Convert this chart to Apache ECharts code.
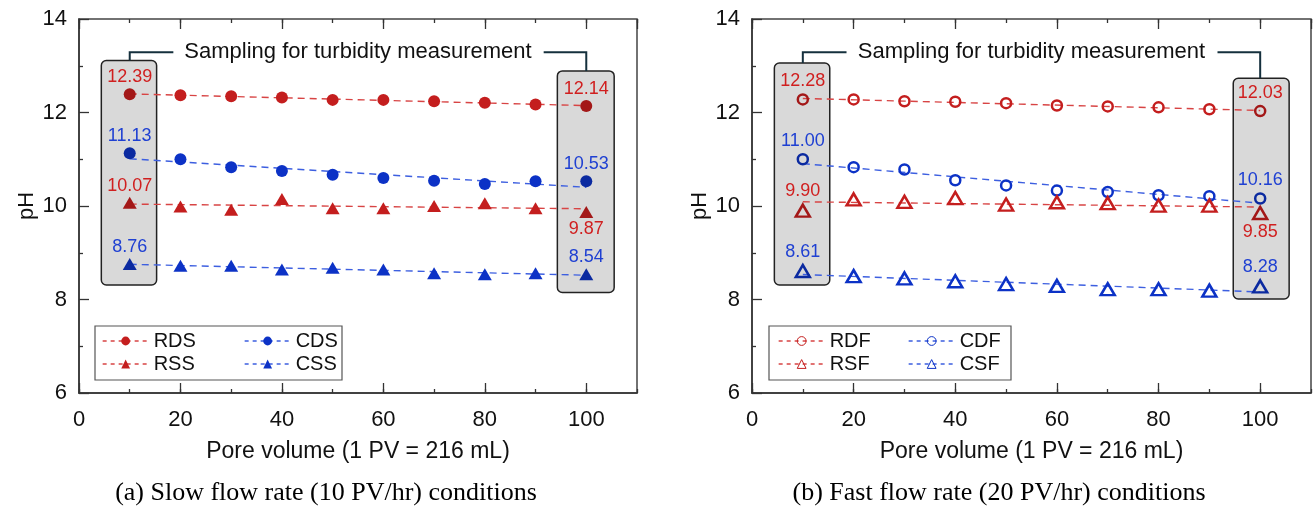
<!DOCTYPE html>
<html>
<head>
<meta charset="utf-8">
<script src="https://cdn.jsdelivr.net/npm/echarts@6/dist/echarts.min.js"></script>
<style>
  html, body { margin: 0; background: #fff; }
  #chart { width: 1314px; height: 506px; }
</style>
</head>
<body>
<div id="chart"></div>
<script>
// pore volume sampled (PV)
const poreVolume = [10, 20, 30, 40, 50, 60, 70, 80, 90, 100];

// (a) slow flow rate
const rdsPH = [12.39, 12.37, 12.35, 12.32, 12.27, 12.27, 12.24, 12.21, 12.17, 12.14];
const cdsPH = [11.13, 11.00, 10.83, 10.75, 10.67, 10.60, 10.54, 10.47, 10.53, 10.53];
const rssPH = [10.07, 9.99, 9.92, 10.15, 9.95, 9.95, 10.00, 10.06, 9.95, 9.87];
const cssPH = [8.76, 8.72, 8.72, 8.64, 8.68, 8.64, 8.56, 8.54, 8.56, 8.54];

// (b) fast flow rate
const rdfPH = [12.28, 12.28, 12.24, 12.23, 12.20, 12.15, 12.13, 12.11, 12.07, 12.03];
const cdfPH = [11.00, 10.83, 10.78, 10.55, 10.44, 10.33, 10.30, 10.23, 10.21, 10.16];
const rsfPH = [9.90, 10.14, 10.09, 10.17, 10.03, 10.08, 10.06, 10.01, 10.01, 9.85];
const csfPH = [8.61, 8.50, 8.45, 8.39, 8.33, 8.29, 8.22, 8.22, 8.19, 8.28];

const captions = [
  '(a) Slow flow rate (10 PV/hr) conditions',
  '(b) Fast flow rate (20 PV/hr) conditions',
];

const SANS = '"Liberation Sans", Arial, sans-serif';
const SERIF = '"Liberation Serif", "Times New Roman", serif';
const AXIS = '#333';

const colors = {
  red: { mark: '#c41e1e', boxed: '#a31818', text: '#d01f1f', line: '#d84444' },
  blue: { mark: '#0c32c6', boxed: '#0b2aa0', text: '#1f40d2', line: '#3d5fe0' },
};

const groups = [
  { grid: 0, name: 'RDS', ys: rdsPH, c: 'red', symbol: 'circle', hollow: false, lastPos: 'top' },
  { grid: 0, name: 'CDS', ys: cdsPH, c: 'blue', symbol: 'circle', hollow: false, lastPos: 'top' },
  { grid: 0, name: 'RSS', ys: rssPH, c: 'red', symbol: 'triangle', hollow: false, lastPos: 'bottom' },
  { grid: 0, name: 'CSS', ys: cssPH, c: 'blue', symbol: 'triangle', hollow: false, lastPos: 'top' },
  { grid: 1, name: 'RDF', ys: rdfPH, c: 'red', symbol: 'circle', hollow: true, lastPos: 'top' },
  { grid: 1, name: 'CDF', ys: cdfPH, c: 'blue', symbol: 'circle', hollow: true, lastPos: 'top' },
  { grid: 1, name: 'RSF', ys: rsfPH, c: 'red', symbol: 'triangle', hollow: true, lastPos: 'bottom' },
  { grid: 1, name: 'CSF', ys: csfPH, c: 'blue', symbol: 'triangle', hollow: true, lastPos: 'top' },
];

// least squares trend line between first and last sample
function trend(ys) {
  const n = ys.length;
  const mx = poreVolume.reduce((a, b) => a + b, 0) / n;
  const my = ys.reduce((a, b) => a + b, 0) / n;
  let sxy = 0, sxx = 0;
  for (let i = 0; i < n; i++) {
    sxy += (poreVolume[i] - mx) * (ys[i] - my);
    sxx += (poreVolume[i] - mx) ** 2;
  }
  const b = sxy / sxx;
  const x0 = poreVolume[0], x1 = poreVolume[n - 1];
  return [[x0, my + b * (x0 - mx)], [x1, my + b * (x1 - mx)]];
}

const series = [];
groups.forEach((g) => {
  const col = colors[g.c];
  const xi = g.grid * 4;
  series.push({
    type: 'line',
    xAxisIndex: xi,
    yAxisIndex: g.grid,
    data: trend(g.ys),
    symbol: 'none',
    silent: true,
    z: 2,
    lineStyle: { color: col.line, width: 1.4, type: [7, 5] },
  });
  const last = g.ys.length - 1;
  const size = g.symbol === 'circle' ? (g.hollow ? 10 : 12) : [14, 12];
  const styleFor = (c) => g.hollow
    ? { color: 'rgba(0,0,0,0)', borderColor: c, borderWidth: 2.5 }
    : { color: c };
  series.push({
    type: 'line',
    name: g.name,
    xAxisIndex: xi,
    yAxisIndex: g.grid,
    symbol: g.symbol,
    symbolSize: size,
    showAllSymbol: true,
    z: 3,
    lineStyle: { color: col.line, width: 1.4, opacity: 0, type: [4, 4] },
    itemStyle: styleFor(col.mark),
    emphasis: { disabled: true },
    data: g.ys.map((v, i) => {
      const boxed = i === 0 || i === last;
      return {
        value: [poreVolume[i], v],
        itemStyle: boxed ? styleFor(col.boxed) : undefined,
        label: {
          show: boxed,
          position: i === last ? g.lastPos : 'top',
          distance: g.hollow ? 3 : 2,
          color: col.text,
          fontSize: 18,
          fontFamily: SANS,
          formatter: (p) => p.value[1].toFixed(2),
        },
      };
    }),
  });
});

const grids = [
  { left: 79, top: 19, width: 558, height: 374 },
  { left: 752, top: 19, width: 559, height: 374 },
];

const xAxes = [];
const yAxes = [];
grids.forEach((gr, gi) => {
  const tickStyle = { color: AXIS, width: 1.3 };
  xAxes.push({
    gridIndex: gi, type: 'value', min: 0, max: 110, interval: 20, position: 'bottom',
    axisLine: { show: true, lineStyle: { color: AXIS, width: 1.5 } },
    axisTick: { inside: true, length: 10, lineStyle: tickStyle },
    axisLabel: { fontSize: 22, color: '#111', fontFamily: SANS, margin: 16, showMaxLabel: false },
    splitLine: { show: false },
    name: 'Pore volume (1 PV = 216 mL)',
    nameLocation: 'middle',
    nameGap: 47,
    nameTextStyle: { fontSize: 23, color: '#111', fontFamily: SANS },
  });
  xAxes.push({
    gridIndex: gi, type: 'value', min: 0, max: 110, interval: 10, position: 'bottom',
    axisLine: { show: false },
    axisTick: { inside: true, length: 4, lineStyle: tickStyle },
    axisLabel: { show: false }, splitLine: { show: false },
  });
  xAxes.push({
    gridIndex: gi, type: 'value', min: 0, max: 110, interval: 20, position: 'top',
    axisLine: { show: false },
    axisTick: { inside: true, length: 10, lineStyle: tickStyle },
    axisLabel: { show: false }, splitLine: { show: false },
  });
  xAxes.push({
    gridIndex: gi, type: 'value', min: 0, max: 110, interval: 10, position: 'top',
    axisLine: { show: false },
    axisTick: { inside: true, length: 4, lineStyle: tickStyle },
    axisLabel: { show: false }, splitLine: { show: false },
  });
  yAxes.push({
    gridIndex: gi, type: 'value', min: 6, max: 14, interval: 2,
    axisLine: { show: true, lineStyle: { color: AXIS, width: 1.5 } },
    axisTick: { inside: true, length: 10, lineStyle: tickStyle },
    minorTick: { show: true, splitNumber: 2, length: 4, lineStyle: tickStyle },
    axisLabel: { fontSize: 22, color: '#111', fontFamily: SANS, margin: 12 },
    splitLine: { show: false },
    name: 'pH',
    nameLocation: 'middle',
    nameGap: 41,
    nameTextStyle: { fontSize: 22, color: '#111', fontFamily: SANS },
  });
});

function legendCol(names, left, hollow) {
  return {
    data: names,
    orient: 'vertical',
    left: left,
    top: 331,
    padding: 0,
    itemGap: 3,
    itemWidth: 46,
    itemHeight: 11,
    selectedMode: false,
    textStyle: { fontSize: 20, color: '#111', fontFamily: SANS, lineHeight: 20 },
    lineStyle: { opacity: 1, width: 1.3 },
    itemStyle: hollow ? { borderWidth: 1 } : {},
  };
}

const chart = echarts.init(document.getElementById('chart'));
chart.setOption({
  animation: false,
  grid: grids.map((g) => Object.assign({ show: true, borderColor: '#444', borderWidth: 1.5, backgroundColor: 'transparent' }, g)),
  xAxis: xAxes,
  yAxis: yAxes,
  legend: [
    legendCol(['RDS', 'RSS'], 102, false),
    legendCol(['CDS', 'CSS'], 244, false),
    legendCol(['RDF', 'RSF'], 778, true),
    legendCol(['CDF', 'CSF'], 908, true),
  ],
  series: series,
});

// sampling boxes + bracket annotations, placed in data coordinates
const boxes = [
  [{ x: [4.4, 15.3], y: [8.31, 13.11] }, { x: [94.3, 105.5], y: [8.15, 12.89] }],
  [{ x: [4.4, 15.3], y: [8.31, 13.06] }, { x: [94.7, 105.7], y: [8.01, 12.73] }],
];
const graphic = [];
boxes.forEach((pair, gi) => {
  const px = (x, y) => chart.convertToPixel({ xAxisIndex: gi * 4, yAxisIndex: gi }, [x, y]);
  pair.forEach((b) => {
    const p0 = px(b.x[0], b.y[1]);
    const p1 = px(b.x[1], b.y[0]);
    graphic.push({
      type: 'rect', z: 1,
      shape: { x: p0[0], y: p0[1], width: p1[0] - p0[0], height: p1[1] - p0[1], r: 5 },
      style: { fill: '#d9d9d9', stroke: '#222', lineWidth: 1.5 },
    });
  });
  const yb = px(0, 13.29)[1];
  const a = px(10, 0)[0];
  const l = px(18.6, 0)[0];
  const r = px(91.6, 0)[0];
  const c = px(100, 0)[0];
  const topA = px(0, pair[0].y[1])[1];
  const topB = px(0, pair[1].y[1])[1];
  graphic.push({
    type: 'polyline', z: 1,
    shape: { points: [[a, topA], [a, yb], [l, yb]] },
    style: { stroke: '#15303d', lineWidth: 2, fill: null },
  });
  graphic.push({
    type: 'polyline', z: 1,
    shape: { points: [[r, yb], [c, yb], [c, topB]] },
    style: { stroke: '#15303d', lineWidth: 2, fill: null },
  });
  graphic.push({
    type: 'text', z: 4,
    style: {
      text: 'Sampling for turbidity measurement',
      x: px(55, 0)[0], y: yb,
      align: 'center', verticalAlign: 'middle',
      fill: '#111', font: '22px ' + SANS,
    },
  });
});
// legend frames
[[95, 326, 247, 54], [769, 326, 242, 54]].forEach((f) => {
  graphic.push({
    type: 'rect', z: 1,
    shape: { x: f[0], y: f[1], width: f[2], height: f[3] },
    style: { fill: '#fff', stroke: '#555', lineWidth: 1.2 },
  });
});
// captions
[[326, captions[0]], [999, captions[1]]].forEach((c) => {
  graphic.push({
    type: 'text',
    style: {
      text: c[1], x: c[0], y: 493,
      align: 'center', verticalAlign: 'middle',
      fill: '#000', font: '26px ' + SERIF,
    },
  });
});
chart.setOption({ graphic: graphic });
</script>
</body>
</html>
